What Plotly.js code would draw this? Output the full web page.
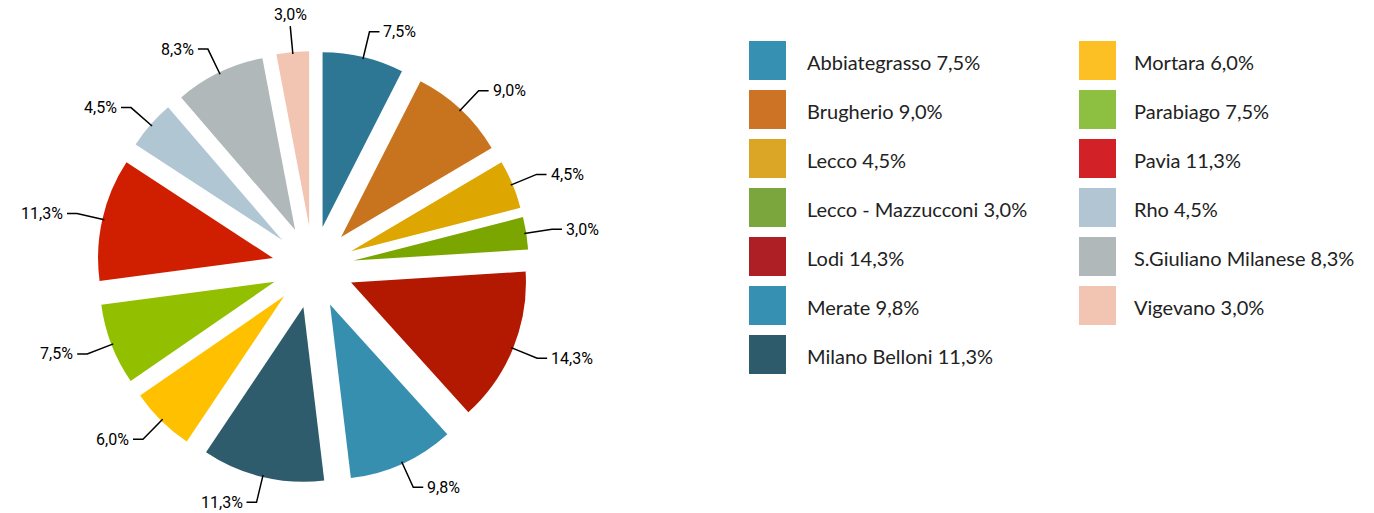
<!DOCTYPE html>
<html><head><meta charset="utf-8">
<script src="https://cdn.plot.ly/plotly-3.0.1.min.js"></script>
<style>html,body{margin:0;padding:0;background:#fff}#chart{width:1374px;height:513px}</style>
</head><body><div id="chart"></div>
<script>
const categories = ['Abbiategrasso','Brugherio','Lecco','Lecco - Mazzucconi','Lodi','Merate','Milano Belloni','Mortara','Parabiago','Pavia','Rho','S.Giuliano Milanese','Vigevano'];
const values = [7.5, 9.0, 4.5, 3.0, 14.3, 9.8, 11.3, 6.0, 7.5, 11.3, 4.5, 8.3, 3.0];
const sliceColors = ['#2D7794','#C8731E','#DDA600','#7BA600','#B31800','#378FB0','#2F5C6C','#FFC000','#92BF00','#CF1F00','#B1C6D3','#B0B8BA','#F2C4B2'];
const legendColors = ['#3590B2','#CC7326','#DBA526','#7BA63E','#AE1E25','#3590B2','#2E5B6B','#FCC024','#8DC041','#D22228','#B1C5D2','#B1B8BA','#F2C4B2'];
const legendColumn1 = 7;

const W = 1374, H = 513;
const pull = 0.235;
const dom = {x: [0.0706, 0.385], y: [0.0585, 0.9005]};

const fmt = v => v.toFixed(1).replace('.', ',') + '%';
const labels = values.map(fmt);

// pie geometry as Plotly computes it
const dw = W * (dom.x[1] - dom.x[0]), dh = H * (dom.y[1] - dom.y[0]);
const r = Math.min(dw, dh) / (2 * (1 + pull));
const cx = W * (dom.x[0] + dom.x[1]) / 2;
const cy = H * (1 - dom.y[0]) - dh / 2;
const px = x => x / W, py = y => 1 - y / H;

const total = values.reduce((a, b) => a + b, 0);
const shapes = [], annotations = [];
let cum = 0;
values.forEach((v, i) => {
  const mid = (cum + v / 2) / total * 2 * Math.PI;
  cum += v;
  const ux = Math.sin(mid), uy = -Math.cos(mid);
  const R1 = r * (1 + pull) - 2, R2 = R1 + 28;
  const sx = cx + R1 * ux, sy = cy + R1 * uy;
  const ex = cx + R2 * ux, ey = cy + R2 * uy;
  let path, ax, ay, xa, ya;
  if (Math.abs(ux) < 0.15) {
    path = `M ${px(sx)} ${py(sy)} L ${px(ex)} ${py(ey)}`;
    ax = ex; ay = ey + (uy < 0 ? 0 : 0); xa = 'center'; ya = uy < 0 ? 'bottom' : 'top';
  } else {
    const dir = ux > 0 ? 1 : -1;
    const hx = ex + dir * 10;
    path = `M ${px(sx)} ${py(sy)} L ${px(ex)} ${py(ey)} L ${px(hx)} ${py(ey)}`;
    ax = hx + dir * 2; ay = ey; xa = dir > 0 ? 'left' : 'right'; ya = 'middle';
  }
  shapes.push({type: 'path', xref: 'paper', yref: 'paper', path: path, line: {color: '#000', width: 1.5}});
  annotations.push({xref: 'paper', yref: 'paper', x: px(ax), y: py(ay), xanchor: xa, yanchor: ya,
    text: labels[i], showarrow: false, font: {family: 'Liberation Sans Narrow, Roboto, sans-serif', size: 16, color: '#000'}});
});

// legend (two columns)
categories.forEach((c, i) => {
  const col = i < legendColumn1 ? 0 : 1;
  const row = col === 0 ? i : i - legendColumn1;
  const sx0 = col === 0 ? 749 : 1079, sw = 37;
  const rowY = 61 + row * 49;
  shapes.push({type: 'rect', xref: 'paper', yref: 'paper', x0: px(sx0), x1: px(sx0 + sw), y0: py(rowY - 20), y1: py(rowY + 19),
    fillcolor: legendColors[i], line: {width: 0}});
  annotations.push({xref: 'paper', yref: 'paper', x: px(col === 0 ? 805 : 1132), y: py(rowY + 1), xanchor: 'left', yanchor: 'middle',
    text: c + ' ' + labels[i], showarrow: false, font: {family: 'Lato, sans-serif', size: 20, color: '#222'}});
});

const data = [{
  type: 'pie', labels: categories, values: values, sort: false, direction: 'clockwise', rotation: 0,
  pull: pull, marker: {colors: sliceColors, line: {width: 0}}, textinfo: 'none', hoverinfo: 'label+percent',
  domain: dom, showlegend: false
}];
const layout = {
  width: W, height: H, margin: {l: 0, r: 0, t: 0, b: 0}, paper_bgcolor: '#fff', plot_bgcolor: '#fff',
  showlegend: false, shapes: shapes, annotations: annotations
};
Plotly.newPlot('chart', data, layout, {displayModeBar: false, staticPlot: true});
</script></body></html>
